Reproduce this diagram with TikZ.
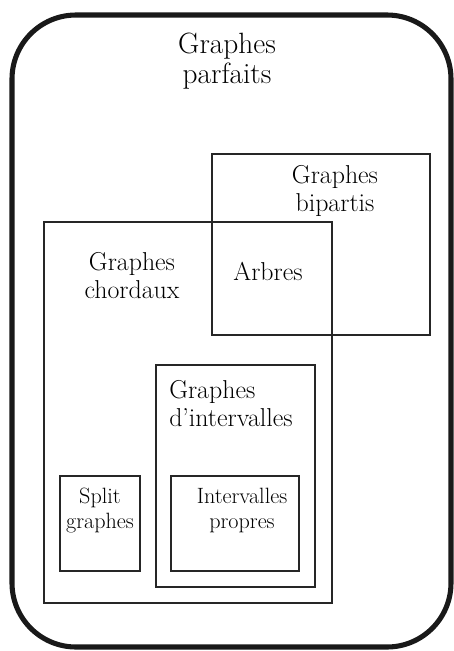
\documentclass[tikz,border=0pt]{standalone}
\usepackage{tikz}
\usetikzlibrary{positioning}

\begin{document}
\begin{tikzpicture}[x=0.75pt,y=-0.75pt,
  ensemble/.style={draw=black!85,line width=2.2pt},
  grand/.style={font=\fontsize{22}{22.5}\selectfont,align=center,inner sep=0pt},
  moyen/.style={font=\fontsize{19.4}{20.8}\selectfont,align=center,inner sep=0pt},
  petit/.style={font=\fontsize{16.6}{18.8}\selectfont,align=center,inner sep=0pt}]
  \useasboundingbox (0,0) rectangle (454,651);

  % parfaits
  \draw[black!90,line width=3.8pt,rounded corners=48pt] (12,15) rectangle (451,647);
  \node[grand,anchor=north] (parfaits) at (227,33) {Graphes\\parfaits};

  % bipartis
  \draw[ensemble] (212,154) rectangle (430,335);
  \node[moyen,anchor=north] (bipartis) at (335,165) {Graphes\\bipartis};

  % chordaux
  \draw[ensemble] (44,222) rectangle (332,603);
  \node[moyen,anchor=north] (chordaux) at (132,252) {Graphes\\chordaux};
  \node[moyen,anchor=north] (arbres) at (268,262) {Arbres};

  % intervalles
  \draw[ensemble] (156,365) rectangle (315,587);
  \node[moyen,align=left,anchor=north west] (intervalles) at (169,380) {Graphes\\d'intervalles};

  % split et propres
  \draw[ensemble] (60,476) rectangle (140,571);
  \node[petit,anchor=north] (split) at (100,488) {Split\\graphes};
  \draw[ensemble] (171,476) rectangle (299,571);
  \node[petit,anchor=north] (propres) at (242,488) {Intervalles\\propres};
\end{tikzpicture}
\end{document}
